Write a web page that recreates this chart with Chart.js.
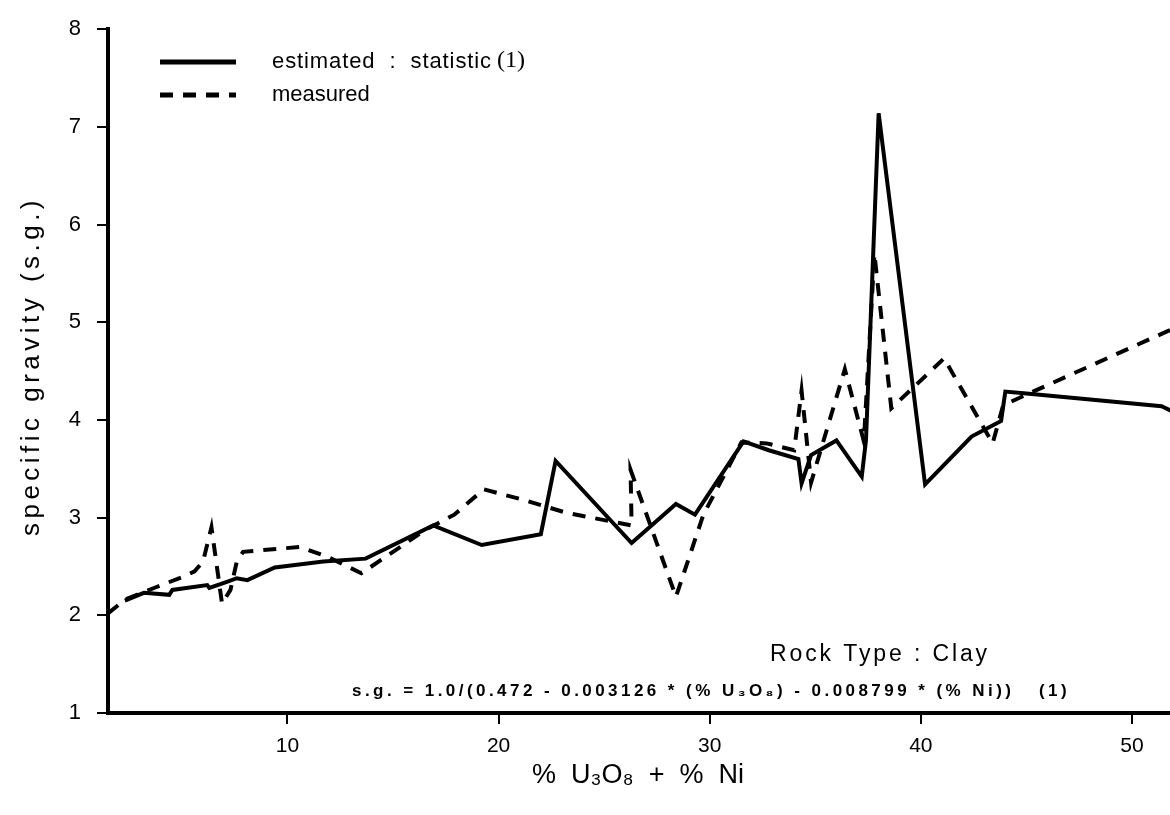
<!DOCTYPE html>
<html>
<head>
<meta charset="utf-8">
<script src="https://cdn.jsdelivr.net/npm/chart.js@4.4.0/dist/chart.umd.min.js"></script>
<style>
  body { margin: 0; background: #fff; }
  #wrap { width: 1170px; height: 815px; }
</style>
</head>
<body>
<div id="wrap"><canvas id="chart" width="1170" height="815"></canvas></div>
<script>
// tick values
const xTicks = [10, 20, 30, 40, 50];
const yTicks = [1, 2, 3, 4, 5, 6, 7, 8];

// estimated : statistic (1)
const estimatedX = [2.3, 3.2, 4.4, 4.55, 6.2, 6.3, 7.1, 7.6, 8.1, 9.4, 11.7, 13.7, 16.9, 19.2, 22.0, 22.7, 26.3, 28.4, 29.3, 31.6, 32.8, 34.2, 34.35, 34.8, 36.0, 37.2, 37.4, 38.0, 40.2, 42.4, 43.8, 44.0, 45.0, 51.4, 52.0];
const estimatedY = [2.15, 2.23, 2.21, 2.26, 2.31, 2.28, 2.34, 2.38, 2.36, 2.49, 2.55, 2.58, 2.92, 2.72, 2.83, 3.58, 2.74, 3.14, 3.03, 3.78, 3.69, 3.60, 3.35, 3.64, 3.79, 3.42, 3.79, 7.14, 3.34, 3.83, 3.99, 4.29, 4.27, 4.14, 4.08];

// measured
const measuredX = [1.5, 2.3, 3.8, 5.0, 5.6, 6.0, 6.4, 6.9, 7.3, 7.6, 7.9, 10.6, 11.1, 11.9, 13.5, 16.5, 17.9, 19.3, 21.2, 23.2, 26.3, 26.25, 28.4, 29.7, 31.5, 32.7, 34.0, 34.35, 34.8, 36.4, 37.3, 37.8, 38.6, 41.1, 43.4, 43.9, 44.9, 51.8];
const measuredY = [2.02, 2.16, 2.29, 2.39, 2.45, 2.55, 2.90, 2.12, 2.26, 2.55, 2.65, 2.70, 2.66, 2.60, 2.43, 2.87, 3.03, 3.29, 3.18, 3.05, 2.92, 3.49, 2.19, 3.03, 3.77, 3.76, 3.69, 4.30, 3.36, 4.52, 3.78, 5.70, 4.12, 4.63, 3.76, 4.15, 4.25, 4.92];

const FONT = '"Liberation Sans", Arial, sans-serif';
const SERIF = '"Liberation Serif", "Times New Roman", serif';

const toPoints = (xs, ys) => xs.map((x, i) => ({ x, y: ys[i] }));

// draw text stretched to a given width with letter spacing
function spaced(ctx, text, x, y, width) {
  ctx.letterSpacing = '0px';
  const w = ctx.measureText(text).width;
  const gap = Math.max(0, (width - w) / text.length);
  ctx.letterSpacing = gap + 'px';
  ctx.fillText(text, x, y);
  ctx.letterSpacing = '0px';
}

const overlay = {
  id: 'overlay',
  afterDraw(chart) {
    const ctx = chart.ctx;
    ctx.save();
    ctx.fillStyle = '#000';
    ctx.strokeStyle = '#000';
    ctx.textBaseline = 'middle';
    ctx.textAlign = 'left';

    // legend
    ctx.lineWidth = 5;
    ctx.setLineDash([]);
    ctx.beginPath(); ctx.moveTo(160, 62); ctx.lineTo(236, 62); ctx.stroke();
    ctx.setLineDash([13, 10]);
    ctx.beginPath(); ctx.moveTo(160, 95); ctx.lineTo(236, 95); ctx.stroke();
    ctx.setLineDash([]);

    ctx.font = '22px ' + FONT;
    spaced(ctx, 'estimated  :  statistic', 272, 62, 220);
    ctx.font = '24px ' + SERIF;
    ctx.fillText('(1)', 497, 61);
    ctx.font = '22px ' + FONT;
    spaced(ctx, 'measured', 272, 95, 96);

    // annotations
    ctx.font = '23px ' + FONT;
    spaced(ctx, 'Rock Type : Clay', 770, 655, 220);
    ctx.font = 'bold 17px ' + FONT;
    spaced(ctx, 's.g. = 1.0/(0.472 - 0.003126 * (% U\u2083O\u2088) - 0.008799 * (% Ni))   (1)', 352, 691, 718);

    // axis titles
    ctx.font = '27px ' + FONT;
    ctx.textAlign = 'center';
    ctx.fillText('%  U\u2083O\u2088  +  %  Ni', 638, 776);
    ctx.textAlign = 'left';

    ctx.translate(32, 366);
    ctx.rotate(-Math.PI / 2);
    ctx.font = '26px ' + FONT;
    spaced(ctx, 'specific gravity (s.g.)', -170, 0, 340);
    ctx.restore();
  }
};

new Chart(document.getElementById('chart'), {
  type: 'line',
  data: {
    datasets: [
      {
        label: 'estimated : statistic (1)',
        data: toPoints(estimatedX, estimatedY),
        borderColor: '#000',
        borderWidth: 4,
        borderJoinStyle: 'miter',
        pointRadius: 0,
        tension: 0,
        fill: false
      },
      {
        label: 'measured',
        data: toPoints(measuredX, measuredY),
        borderColor: '#000',
        borderWidth: 4,
        borderDash: [13, 10],
        borderJoinStyle: 'miter',
        pointRadius: 0,
        tension: 0,
        fill: false
      }
    ]
  },
  options: {
    responsive: false,
    animation: false,
    layout: { padding: { top: 20, right: 0, left: 0, bottom: 0 } },
    plugins: { legend: { display: false }, tooltip: { enabled: false } },
    scales: {
      x: {
        type: 'linear',
        min: 1.5,
        max: 51.8,
        afterBuildTicks: s => { s.ticks = xTicks.map(v => ({ value: v })); },
        afterFit: s => { s.height = 102; },
        grid: { drawOnChartArea: false, drawTicks: true, tickLength: 11, color: '#000', lineWidth: 2 },
        border: { display: true, color: '#000', width: 4 },
        ticks: { color: '#000', font: { family: FONT, size: 21 }, padding: 10, maxRotation: 0 }
      },
      y: {
        type: 'linear',
        min: 1,
        max: 8,
        afterBuildTicks: s => { s.ticks = yTicks.map(v => ({ value: v })); },
        afterFit: s => { s.width = 108; },
        grid: { drawOnChartArea: false, drawTicks: true, tickLength: 11, color: '#000', lineWidth: 2 },
        border: { display: true, color: '#000', width: 4 },
        ticks: { color: '#000', font: { family: FONT, size: 22 }, padding: 16 }
      }
    }
  },
  plugins: [overlay]
});
</script>
</body>
</html>
